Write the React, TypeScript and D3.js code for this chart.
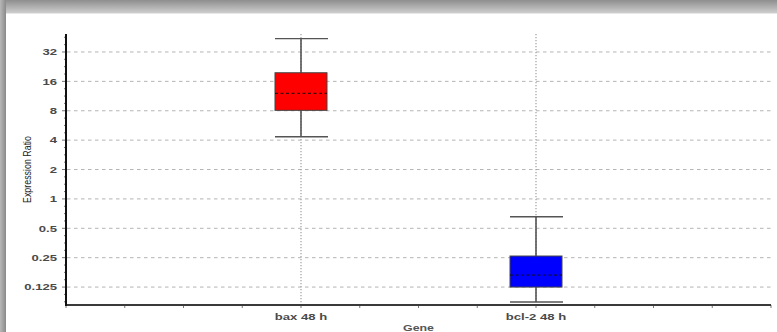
import React from 'react';
import * as d3 from 'd3';

const categories = ['bax 48 h', 'bcl-2 48 h'];
const whiskerLow = [4.34, 0.088];
const q1 = [8.08, 0.125];
const median = [12.07, 0.166];
const q3 = [19.6, 0.26];
const whiskerHigh = [43.8, 0.656];
const colors = ['#ff0000', '#0000ff'];
const yTicks = [0.125, 0.25, 0.5, 1, 2, 4, 8, 16, 32];
const yTickLabels = ['0.125', '0.25', '0.5', '1', '2', '4', '8', '16', '32'];

const W = 777;
const H = 332;
const left = 66;
const right = 771;
const top = 34;
const bottom = 305;
const SX = 1.38; // text in the picture is stretched sideways

export default function App() {
  const y = d3.scaleLog().base(2).domain([0.0819, 48.9]).range([bottom, top]);
  const x = d3.scaleLinear().domain([0, 3]).range([left, right]);
  const xMinor = d3.range(0, 3.0001, 0.25);
  const yMinor: number[] = [];
  for (let k = -4; k <= 5; k++) {
    for (let j = 1; j < 4; j++) {
      const v = Math.pow(2, k + j / 4);
      if (y(v) > top && y(v) < bottom) yMinor.push(v);
    }
  }
  const boxW = 52;
  const font = "'Liberation Sans', Arial, sans-serif";

  return (
    <svg width={W} height={H} style={{ position: 'absolute', left: 0, top: 0 }}>
      <defs>
        <linearGradient id="topg" x1="0" y1="0" x2="0" y2="1">
          <stop offset="0" stopColor="#8e8e8e" />
          <stop offset="1" stopColor="#d2d2d2" />
        </linearGradient>
        <linearGradient id="leftg" x1="0" y1="0" x2="1" y2="0">
          <stop offset="0" stopColor="#b8b8b8" />
          <stop offset="1" stopColor="#8a8a8a" />
        </linearGradient>
      </defs>
      <rect x={0} y={0} width={W} height={H} fill="#fff" />
      <rect x={0} y={0} width={W} height={14} fill="url(#topg)" />
      <rect x={0} y={0} width={6} height={H} fill="url(#leftg)" />
      <line x1={6} x2={W} y1={13.5} y2={13.5} stroke="#e8e8e8" />

      {/* horizontal gridlines */}
      {yTicks.map((t) => (
        <line key={'g' + t} x1={left + 1} x2={right} y1={y(t)} y2={y(t)}
          stroke="#b4b4b4" strokeDasharray="3.5,3.5" strokeWidth={1} />
      ))}
      {/* vertical gridlines at categories */}
      {categories.map((c, i) => (
        <line key={'v' + c} x1={x(i + 1)} x2={x(i + 1)} y1={top} y2={bottom}
          stroke="#a0a0a0" strokeDasharray="1.2,1.8" strokeWidth={1.2} />
      ))}

      {/* boxes */}
      {categories.map((c, i) => {
        const cx = x(i + 1);
        return (
          <g key={'b' + c}>
            <line x1={cx} x2={cx} y1={y(whiskerHigh[i])} y2={y(whiskerLow[i])} stroke="#555" strokeWidth={1.6} />
            <line x1={cx - boxW / 2} x2={cx + boxW / 2 + 1} y1={y(whiskerHigh[i])} y2={y(whiskerHigh[i])} stroke="#555" strokeWidth={1.4} />
            <line x1={cx - boxW / 2} x2={cx + boxW / 2 + 1} y1={y(whiskerLow[i])} y2={y(whiskerLow[i])} stroke="#555" strokeWidth={1.4} />
            <rect x={cx - boxW / 2} y={y(q3[i])} width={boxW} height={y(q1[i]) - y(q3[i])}
              fill={colors[i]} stroke="#444" strokeWidth={1} />
            <line x1={cx - boxW / 2} x2={cx + boxW / 2} y1={y(median[i])} y2={y(median[i])}
              stroke="#111" strokeDasharray="3,2.5" strokeWidth={1} />
          </g>
        );
      })}

      {/* y axis */}
      {yMinor.map((t) => (
        <line key={'m' + t} x1={left - 2} x2={left} y1={y(t)} y2={y(t)} stroke="#777" />
      ))}
      {yTicks.map((t, i) => (
        <g key={'t' + t}>
          <line x1={left - 4} x2={left} y1={y(t)} y2={y(t)} stroke="#777" />
          <text transform={`translate(57,${y(t)}) scale(${SX},1)`} textAnchor="end" dy="0.35em"
            fontFamily={font} fontWeight="bold" fontSize={9.5} fill="#4a4a4a">{yTickLabels[i]}</text>
        </g>
      ))}
      {/* x axis */}
      {xMinor.map((t) => (
        <line key={'x' + t} x1={x(t)} x2={x(t)} y1={bottom} y2={bottom + 3} stroke="#777" />
      ))}
      <line x1={left} x2={right} y1={bottom} y2={bottom} stroke="#3a3a3a" strokeWidth={2} />
      <line x1={left} x2={left} y1={top} y2={bottom + 1} stroke="#111" strokeWidth={2} />

      {categories.map((c, i) => (
        <text key={'l' + c} transform={`translate(${x(i + 1)},320) scale(${SX},1)`} textAnchor="middle"
          fontFamily={font} fontWeight="bold" fontSize={9.5} fill="#4a4a4a">{c}</text>
      ))}
      <text transform={`translate(${(left + right) / 2},331) scale(${SX},1)`} textAnchor="middle"
        fontFamily={font} fontWeight="bold" fontSize={9} fill="#555">Gene</text>
      <text transform={`translate(31,${(top + bottom) / 2}) rotate(-90)`} textAnchor="middle"
        fontFamily={font} fontSize={10.5} fill="#222" style={{ fontStretch: 'condensed' }}
        textLength={67} lengthAdjust="spacingAndGlyphs">Expression Ratio</text>
    </svg>
  );
}
